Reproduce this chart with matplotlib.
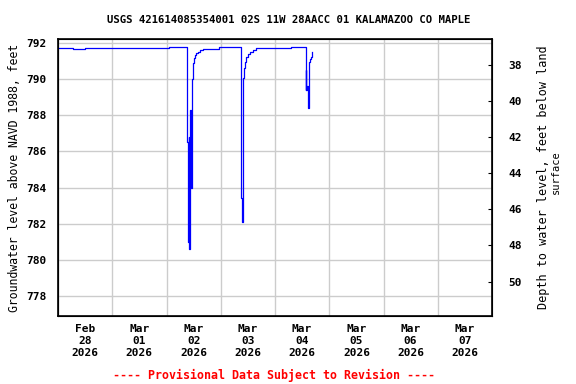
import matplotlib
matplotlib.use("Agg")
import matplotlib.pyplot as plt
import matplotlib.dates as mdates
import pandas as pd

# hours after 2026-02-28 00:00 and groundwater level (ft above NAVD 1988)
hours = [0.0, 6.4, 6.5, 11.8, 11.9, 49.0, 49.1, 57.1, 57.2, 57.5, 58.0, 58.1,
         58.4, 58.5, 58.8, 59.3, 59.4, 59.7, 59.9, 60.2, 60.6, 61.2, 62.1,
         63.0, 64.3, 71.3, 71.4, 80.7, 80.8, 81.1, 81.4, 81.7, 82.0, 82.3,
         82.7, 83.3, 84.1, 85.0, 86.3, 87.6, 103.0, 103.1, 109.5, 109.6,
         109.8, 109.9, 110.2, 110.7, 111.0, 111.2, 111.6, 111.9, 112.2, 112.5]
level = [791.71, 791.71, 791.66, 791.66, 791.71, 791.71, 791.78, 791.78,
         786.5, 781.0, 786.8, 780.6, 787.0, 788.3, 784.0, 786.2, 790.0,
         790.5, 790.9, 791.15, 791.34, 791.45, 791.52, 791.6, 791.65,
         791.70, 791.75, 791.75, 788.2, 783.4, 782.1, 788.9, 790.05,
         790.6, 790.97, 791.2, 791.39, 791.52, 791.61, 791.71, 791.71,
         791.80, 791.80, 789.4, 790.5, 789.4, 789.6, 788.4, 789.3, 790.97,
         791.1, 791.24, 791.4, 791.52]
land_surface = 828.8

start = pd.Timestamp("2026-02-28")
times = [start + pd.Timedelta(hours=h) for h in hours]
day_labels = pd.date_range("2026-02-28 12:00", periods=8, freq="D")

mono = "DejaVu Sans Mono"
plt.rcParams["font.family"] = mono
plt.rcParams["font.weight"] = "bold"

fig = plt.figure(figsize=(5.76, 3.84), dpi=100)
ax = fig.add_axes([58/576, 1-316/384, 434/576, 277/384])

ax.step(times, level, where="post", color="#0000ff", lw=0.9)

ax.set_xlim(start, start + pd.Timedelta(days=8))
ax.set_ylim(776.9, 792.22)
ax.set_yticks(range(778, 793, 2))
ax.set_xticks(day_labels)
ax.set_xticklabels([d.strftime("%b\n%d\n%Y") for d in day_labels], fontsize=8)
ax.xaxis.set_minor_locator(mdates.DayLocator())
ax.tick_params(axis="x", which="major", length=0, pad=6)
ax.tick_params(axis="x", which="minor", length=0)
ax.tick_params(axis="y", labelsize=8, length=0, pad=8)
ax.grid(True, which="minor", axis="x", color="#cccccc", lw=1)
ax.grid(True, which="major", axis="y", color="#cccccc", lw=1)
ax.set_axisbelow(True)
for s in ax.spines.values():
    s.set_linewidth(1.2)

ax.set_ylabel("Groundwater level above NAVD 1988, feet", fontsize=8.3,
              labelpad=4)

ax2 = ax.twinx()
lo, hi = ax.get_ylim()
ax2.set_ylim(land_surface - lo, land_surface - hi)
ax2.set_yticks(range(38, 51, 2))
ax2.tick_params(axis="y", labelsize=8, direction="in", length=3, pad=12)
ax2.set_ylabel("Depth to water level, feet below land", fontsize=8.5, labelpad=11)
fig.text(556/576, 1-172/384, "surface", rotation=90, fontsize=7.5,
         fontweight="normal", ha="center", va="center")

fig.text(289/576, 1-20/384, "USGS 421614085354001 02S 11W 28AACC 01 KALAMAZOO CO MAPLE",
         ha="center", va="center", fontsize=7.7)
fig.text(274/576, 1-375/384, "---- Provisional Data Subject to Revision ----",
         ha="center", va="center", fontsize=8.4, color="red")

fig.savefig("out.png", dpi=100)
